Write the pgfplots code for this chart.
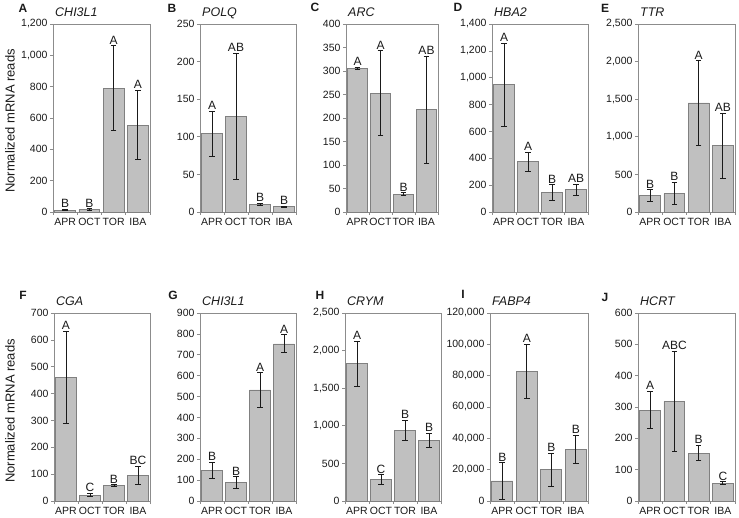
\documentclass[border=0pt]{standalone}
\usepackage{fontspec}
\setmainfont{Liberation Sans}
\usepackage{pgfplots}
\pgfplotsset{compat=1.18}

\definecolor{barfill}{HTML}{C0C0C0}
\definecolor{baredge}{HTML}{808080}
\definecolor{boxgray}{HTML}{8C8C8C}
\definecolor{txt}{HTML}{1A1A1A}

\pgfplotsset{
  panel/.style={
    scale only axis, height=188pt, anchor=north west,
    xmin=-0.5, xmax=3.5, ymin=0,
    xtick={0,1,2,3}, xticklabels={APR,OCT,TOR,IBA},
    major x tick style={draw=none},
    minor xtick={-0.5,0.5,1.5,2.5,3.5},
    major tick length=3pt, minor tick length=3pt,
    tick align=outside, ytick pos=left, xtick pos=bottom,
    axis line style={boxgray, line width=0.7pt},
    tick style={boxgray, line width=0.7pt},
    tick label style={txt},
    yticklabel style={font=\fontsize{10.5}{12}\selectfont, xshift=1pt},
    xticklabel style={font=\fontsize{10.5}{12}\selectfont},
    scaled y ticks=false,
    /pgf/number format/fixed,
    /pgf/number format/1000 sep={,},
    /pgf/number format/assume math mode=true,
    title style={at={(0,1)}, anchor=base west, xshift=2pt, yshift=1.5pt,
      inner sep=0pt, font=\fontsize{12.5}{14}\selectfont\itshape, txt},
    clip=false,
  },
  bars/.style={
    ybar, bar width=0.86, fill=barfill, draw=baredge, line width=0.7pt,
    error bars/.cd, y dir=both, y explicit, error mark=|,
    error bar style={txt, line width=0.9pt},
    error mark options={txt, mark size=2.8pt, line width=0.9pt},
  },
  letters/.style={
    draw=none, mark=none, nodes near coords, point meta=explicit symbolic,
    nodes near coords style={font=\fontsize{12}{14}\selectfont, anchor=south,
      inner sep=1.5pt, txt},
  },
}

% #1 left, #2 top (from bottom), #3 width, #4 ymax, #5 step, #6 gene, #7 bars, #8 letters
\newcommand{\panel}[8]{%
\begin{axis}[panel, at={(#1pt,#2pt)}, width=#3pt, ymax=#4, ytick distance=#5, title={#6}]
\addplot[bars] coordinates {#7};
\addplot[letters] coordinates {#8};
\end{axis}}

\begin{document}
\begin{tikzpicture}
\useasboundingbox (0,0) rectangle (739pt,517pt);

% row 1
\panel{53}{493}{97}{1200}{200}{CHI3L1}
  {(0,12) +- (0,5) (1,15) +- (0,5) (2,790) +- (0,270) (3,555) +- (0,220)}
  {(0,17) [B] (1,20) [B] (2,1060) [A] (3,775) [A]}
\panel{200}{493}{96}{250}{50}{POLQ}
  {(0,104) +- (0,30) (1,127) +- (0,84) (2,10) +- (0,1.5) (3,7) +- (0,1)}
  {(0,134) [A] (1,211) [AB] (2,11.5) [B] (3,8) [B]}
\panel{346}{493}{92}{400}{50}{ARC}
  {(0,306) +- (0,2) (1,253) +- (0,90) (2,38) +- (0,3) (3,218) +- (0,114)}
  {(0,308) [A] (1,343) [A] (2,41) [B] (3,332) [AB]}
\panel{492}{493}{96}{1400}{200}{HBA2}
  {(0,948) +- (0,308) (1,375) +- (0,70) (2,143) +- (0,60) (3,165) +- (0,43)}
  {(0,1256) [A] (1,445) [A] (2,203) [B] (3,208) [AB]}
\panel{638}{493}{97}{2500}{500}{TTR}
  {(0,220) +- (0,75) (1,245) +- (0,150) (2,1450) +- (0,560) (3,880) +- (0,430)}
  {(0,295) [B] (1,395) [B] (2,2010) [A] (3,1310) [AB]}

% row 2
\panel{54}{204}{96}{700}{100}{CGA}
  {(0,460) +- (0,172) (1,22) +- (0,5) (2,58) +- (0,2) (3,96) +- (0,34)}
  {(0,632) [A] (1,27) [C] (2,60) [B] (3,130) [BC]}
\panel{200}{204}{96}{900}{100}{CHI3L1}
  {(0,147) +- (0,37) (1,87) +- (0,29) (2,532) +- (0,82) (3,752) +- (0,43)}
  {(0,184) [B] (1,116) [B] (2,614) [A] (3,795) [A]}
\panel{345}{204}{96}{2500}{500}{CRYM}
  {(0,1825) +- (0,298) (1,285) +- (0,62) (2,940) +- (0,135) (3,810) +- (0,93)}
  {(0,2123) [A] (1,347) [C] (2,1075) [B] (3,903) [B]}
\panel{490}{204}{98}{120000}{20000}{FABP4}
  {(0,12800) +- (0,11500) (1,82800) +- (0,17300) (2,20000) +- (0,10500) (3,33000) +- (0,9000)}
  {(0,24300) [B] (1,100100) [A] (2,30500) [B] (3,42000) [B]}
\panel{638}{204}{97}{600}{100}{HCRT}
  {(0,290) +- (0,60) (1,318) +- (0,160) (2,153) +- (0,25) (3,57) +- (0,4)}
  {(0,350) [A] (1,478) [ABC] (2,178) [B] (3,61) [C]}

% panel letters and y labels
\begin{scope}[every node/.style={font=\fontsize{12}{14}\selectfont\bfseries, txt}]
\node at (23pt,509pt) {A};
\node at (172pt,509pt) {B};
\node at (315pt,510pt) {C};
\node at (458pt,510pt) {D};
\node at (605pt,509pt) {E};
\node at (23pt,222pt) {F};
\node at (173pt,222pt) {G};
\node at (320pt,222pt) {H};
\node at (463pt,223pt) {I};
\node at (605pt,220pt) {J};
\end{scope}
\node[rotate=90, font=\fontsize{13}{15}\selectfont, txt] at (10pt,396pt) {Normalized mRNA reads};
\node[rotate=90, font=\fontsize{13}{15}\selectfont, txt] at (10pt,106pt) {Normalized mRNA reads};
\end{tikzpicture}
\end{document}
